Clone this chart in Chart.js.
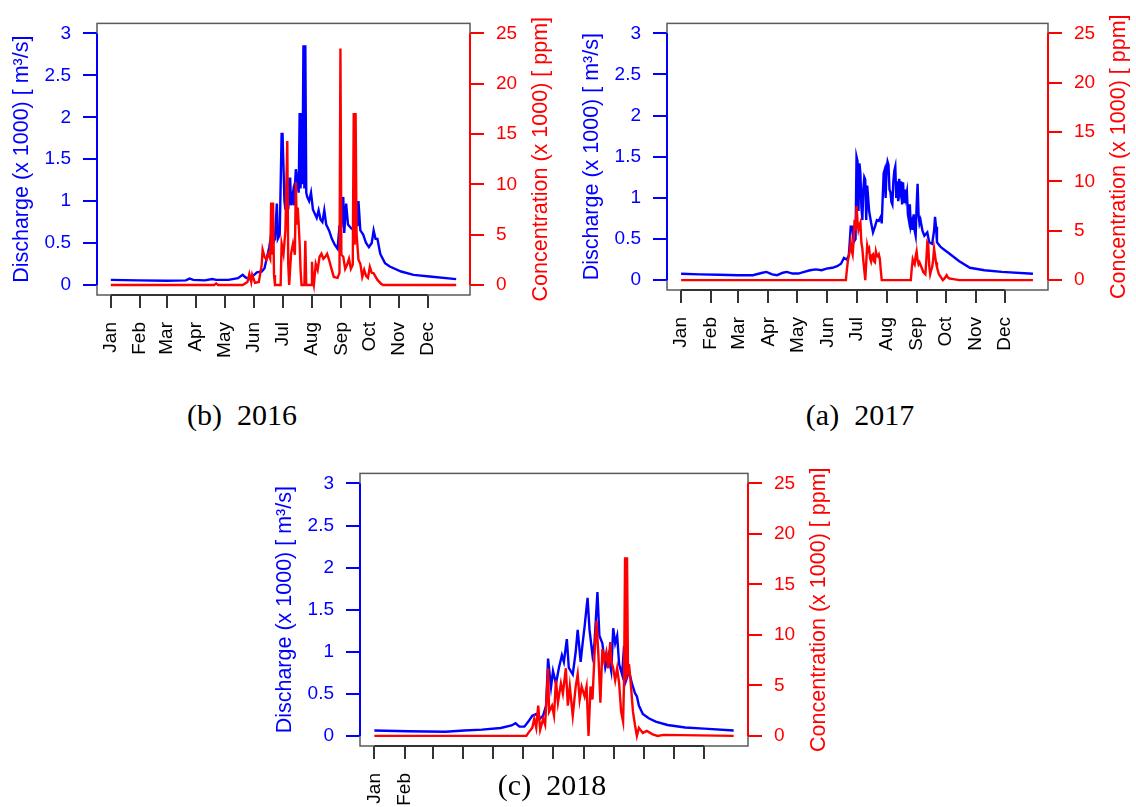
<!DOCTYPE html>
<html>
<head>
<meta charset="utf-8">
<script src="https://cdn.jsdelivr.net/npm/chart.js@4.4.0/dist/chart.umd.min.js"></script>
<style>
  html, body { margin: 0; padding: 0; background: #fff; }
  #page { position: relative; width: 1136px; height: 807px; overflow: hidden; }
  canvas { position: absolute; }
  .cap { position: absolute; font-family: "Liberation Serif", "Times New Roman", serif; font-size: 30px; color: #000; white-space: pre; transform: translateX(-50%); line-height: 1; }
</style>
</head>
<body>
<div id="page">
  <canvas id="c2016" width="562" height="392" style="left:0px;top:0px"></canvas>
  <canvas id="c2017" width="568" height="392" style="left:568px;top:0px"></canvas>
  <canvas id="c2018" width="610" height="357" style="left:255px;top:450px"></canvas>
  <div class="cap" style="left:242px;top:400px">(b)  2016</div>
  <div class="cap" style="left:860px;top:400px">(a)  2017</div>
  <div class="cap" style="left:552px;top:770px">(c)  2018</div>
</div>
<script>
// month axis
const months = ['Jan', 'Feb', 'Mar', 'Apr', 'May', 'Jun', 'Jul', 'Aug', 'Sep', 'Oct', 'Nov', 'Dec'];
const monthStartDays = [1, 32, 60, 91, 121, 152, 182, 213, 244, 274, 305, 335];
const dischargeTicks = [0, 0.5, 1, 1.5, 2, 2.5, 3];
const concTicks = [0, 5, 10, 15, 20, 25];

const qDays2016 = [1, 30, 60, 80, 84, 88, 100, 108, 112, 125, 135, 140, 143, 147, 150, 155, 160, 163, 166, 168, 170, 172, 174, 176, 177, 179, 181, 182, 184, 185, 187, 188, 190, 191, 193, 194, 196, 197, 199, 200, 201, 202, 203, 204, 205, 206, 207, 208, 210, 212, 214, 216, 218, 220, 222, 224, 226, 228, 231, 234, 237, 240, 242, 244, 246, 247, 249, 251, 254, 257, 259, 260, 261, 262, 264, 267, 270, 273, 276, 278, 280, 282, 285, 290, 295, 307, 320, 337, 365];
const q2016 = [0.06, 0.055, 0.05, 0.055, 0.075, 0.06, 0.055, 0.07, 0.06, 0.06, 0.08, 0.12, 0.09, 0.07, 0.1, 0.15, 0.16, 0.2, 0.35, 0.45, 0.6, 0.5, 0.55, 0.97, 0.55, 0.6, 1.8, 1.8, 1.0, 0.9, 1.28, 0.9, 1.28, 0.95, 1.1, 0.95, 1.38, 1.3, 1.1, 2.05, 1.15, 2.05, 1.2, 2.86, 1.15, 2.86, 1.1, 1.05, 1.0, 1.1, 0.9, 0.85, 0.8, 0.89, 0.78, 0.75, 0.89, 0.72, 0.65, 0.55, 0.48, 0.43, 0.7, 0.7, 1.05, 0.62, 0.97, 0.72, 0.68, 0.65, 0.62, 1.0, 0.7, 1.0, 0.65, 0.6, 0.5, 0.45, 0.5, 0.65, 0.55, 0.55, 0.37, 0.26, 0.22, 0.16, 0.12, 0.1, 0.07];
// 2016 - concentration (x1000 ppm)
const cDays2016 = [1, 110, 112, 114, 140, 145, 147, 149, 150, 153, 157, 160, 161, 163, 165, 167, 169, 170, 171, 172, 173, 174, 180, 181, 183, 185, 187, 188, 189, 191, 193, 195, 196, 197, 198, 199, 200, 201, 202, 205, 206, 207, 212, 213, 214, 215, 217, 219, 221, 223, 225, 227, 229, 231, 233, 236, 240, 242, 243, 244, 246, 248, 250, 252, 254, 256, 257, 258, 259, 260, 262, 264, 266, 268, 270, 272, 274, 276, 278, 282, 286, 288, 365];
const c2016 = [0, 0, 0.15, 0, 0, 0.3, 1.1, 0.3, 1.0, 0.2, 0.3, 2.0, 3.5, 2.8, 2.5, 3.1, 2.6, 8.2, 3.0, 8.2, 1.0, 0, 0, 4.1, 3.1, 5.4, 14.3, 2.0, 0, 3.1, 4.1, 3.0, 10.2, 6.0, 7.7, 6.1, 4.1, 1.5, 0, 0, 4.4, 0, 0, 2.3, 0.5, 0, 2.1, 1.5, 2.8, 3.1, 2.6, 2.8, 3.1, 2.5, 1.8, 0.8, 0.7, 1.2, 23.5, 3.0, 2.8, 1.6, 2.0, 2.6, 1.6, 2.0, 17.1, 4.0, 17.1, 5.1, 2.5, 2.1, 0.8, 1.5, 0.9, 0.7, 1.8, 1.2, 1.15, 0.5, 0.1, 0, 0];

// 2017
const qDays2017 = [1, 20, 40, 60, 75, 85, 89, 95, 100, 106, 110, 116, 122, 128, 134, 140, 146, 151, 157, 162, 166, 169, 172, 174, 175, 176, 178, 179, 181, 182, 183, 184, 185, 186, 187, 188, 189, 190, 191, 192, 193, 194, 195, 197, 199, 201, 203, 205, 207, 208, 209, 210, 211, 212, 213, 214, 215, 216, 217, 218, 219, 220, 221, 222, 223, 224, 225, 226, 227, 228, 229, 230, 231, 232, 233, 234, 235, 236, 237, 238, 239, 240, 241, 242, 243, 244, 245, 246, 247, 248, 250, 252, 255, 257, 260, 262, 263, 264, 265, 269, 277, 288, 299, 314, 332, 364];
const q2017 = [0.077, 0.07, 0.065, 0.06, 0.06, 0.09, 0.1, 0.07, 0.06, 0.09, 0.1, 0.08, 0.08, 0.1, 0.12, 0.13, 0.12, 0.14, 0.15, 0.17, 0.2, 0.27, 0.25, 0.3, 0.46, 0.65, 0.65, 0.46, 0.5, 1.5, 1.45, 0.84, 1.42, 1.3, 0.9, 0.73, 1.1, 1.25, 1.22, 0.73, 1.15, 1.0, 0.84, 0.7, 0.58, 0.65, 0.73, 0.72, 0.77, 0.69, 1.0, 1.3, 1.34, 1.0, 1.35, 1.44, 1.4, 1.1, 1.07, 0.95, 0.92, 1.2, 1.33, 1.38, 1.0, 1.2, 0.96, 1.23, 1.1, 1.2, 0.92, 1.19, 0.95, 1.1, 1.0, 1.07, 0.8, 0.73, 0.92, 0.65, 0.7, 0.61, 0.8, 0.6, 0.54, 0.9, 1.17, 0.8, 0.69, 0.73, 0.6, 0.54, 0.58, 0.46, 0.44, 0.6, 0.77, 0.65, 0.46, 0.4, 0.33, 0.23, 0.15, 0.12, 0.1, 0.077];
const cDays2017 = [1, 171, 172, 173, 175, 176, 177, 178, 179, 180, 181, 182, 183, 184, 185, 186, 187, 188, 189, 190, 191, 192, 193, 194, 195, 196, 197, 198, 199, 200, 201, 202, 203, 204, 205, 206, 207, 208, 238, 239, 240, 241, 242, 243, 244, 245, 246, 247, 249, 251, 253, 254, 255, 256, 257, 258, 259, 260, 261, 262, 263, 264, 265, 267, 269, 271, 273, 275, 276, 278, 282, 288, 364];
const c2017 = [0, 0, 1.0, 1.9, 3.0, 3.8, 3.0, 2.6, 4.0, 6.1, 5.0, 7.5, 6.0, 5.1, 5.5, 5.8, 3.8, 3.2, 2.0, 1.0, 0, 1.8, 3.5, 3.0, 3.2, 2.2, 1.9, 2.5, 2.6, 1.9, 1.8, 2.9, 2.5, 2.4, 2.6, 2.2, 1.0, 0, 0, 1.2, 2.1, 1.8, 1.6, 2.4, 2.9, 2.0, 1.6, 1.8, 1.3, 0.8, 0.6, 2.0, 3.8, 3.6, 1.5, 0.6, 1.0, 1.3, 2.0, 3.2, 2.5, 1.8, 1.3, 0.6, 0.3, 0, 0.2, 0.5, 0.3, 0.16, 0.1, 0, 0];

// 2018
const qDays2018 = [1, 35, 73, 92, 110, 129, 140, 144, 148, 153, 157, 161, 165, 168, 172, 175, 177, 180, 182, 185, 188, 191, 193, 196, 198, 202, 205, 207, 210, 212, 214, 217, 219, 222, 224, 227, 229, 232, 235, 238, 241, 243, 245, 247, 249, 252, 254, 256, 259, 262, 265, 267, 269, 273, 279, 286, 298, 316, 335, 365];
const q2018 = [0.064, 0.056, 0.05, 0.064, 0.075, 0.094, 0.124, 0.15, 0.11, 0.11, 0.17, 0.24, 0.26, 0.2, 0.24, 0.36, 0.92, 0.58, 0.77, 0.62, 0.81, 0.96, 0.88, 1.15, 0.81, 0.73, 1.0, 1.26, 0.88, 1.1, 1.3, 1.64, 1.26, 0.96, 1.1, 1.71, 1.19, 1.1, 0.81, 0.96, 0.77, 1.28, 1.1, 1.19, 0.85, 0.73, 1.07, 0.66, 0.77, 0.62, 0.51, 0.47, 0.36, 0.26, 0.21, 0.17, 0.13, 0.1, 0.087, 0.064];
const cDays2018 = [1, 155, 157, 161, 163, 165, 167, 169, 172, 174, 177, 178, 181, 183, 185, 187, 190, 192, 195, 197, 199, 202, 205, 207, 209, 211, 214, 216, 218, 220, 222, 224, 226, 228, 230, 232, 234, 236, 238, 240, 241, 243, 245, 247, 249, 251, 253, 254, 255, 256, 257, 258, 259, 261, 263, 265, 267, 269, 273, 277, 283, 288, 294, 365];
const c2018 = [0, 0, 0.3, 0.8, 1.7, 0.8, 3.0, 0.6, 1.7, 1.1, 6.7, 2.4, 3.0, 2.0, 5.5, 3.3, 5.2, 4.2, 6.7, 3.0, 4.9, 2.0, 4.9, 6.1, 3.6, 4.9, 3.9, 4.9, 0, 4.9, 3.6, 8.0, 11.4, 8.0, 3.3, 8.6, 7.4, 8.3, 6.7, 9.3, 7.4, 6.7, 5.5, 6.7, 5.2, 2.4, 1.4, 5.5, 17.7, 5.5, 17.7, 6.0, 7.1, 4.9, 2.4, 1.1, 0, 0.8, 0.3, 0.5, 0.15, 0, 0.1, 0];

const FONT = '"Liberation Sans", Arial, sans-serif';
const BLUE = '#0000ff';
const RED = '#ff0000';

// box, axis lines and rotated axis titles (R style)
const framePlugin = {
  id: 'frame',
  afterDatasetsDraw(chart) {
    const { ctx, chartArea: a, scales } = chart;
    const o = chart.options.plugins.frame;
    ctx.save();
    ctx.strokeStyle = '#5a5a5a';
    ctx.lineWidth = 1.5;
    ctx.strokeRect(a.left, a.top, a.right - a.left, a.bottom - a.top);
    ctx.lineWidth = 2;
    ctx.strokeStyle = BLUE;
    ctx.beginPath();
    ctx.moveTo(a.left, scales.yQ.getPixelForValue(0));
    ctx.lineTo(a.left, scales.yQ.getPixelForValue(3));
    ctx.stroke();
    ctx.strokeStyle = RED;
    ctx.beginPath();
    ctx.moveTo(a.right, scales.yC.getPixelForValue(0));
    ctx.lineTo(a.right, scales.yC.getPixelForValue(25));
    ctx.stroke();
    ctx.strokeStyle = '#333';
    ctx.beginPath();
    ctx.moveTo(scales.x.getPixelForValue(1), a.bottom);
    ctx.lineTo(scales.x.getPixelForValue(335), a.bottom);
    ctx.stroke();

    const midY = (a.top + a.bottom) / 2;
    ctx.font = o.size + 'px ' + FONT;
    ctx.textAlign = 'center';
    ctx.textBaseline = 'middle';
    ctx.fillStyle = BLUE;
    ctx.translate(a.left - o.leftGap, midY);
    ctx.rotate(-Math.PI / 2);
    ctx.fillText('Discharge (x 1000) [ m\u00b3/s]', 0, 0);
    ctx.restore();
    ctx.save();
    ctx.font = o.size + 'px ' + FONT;
    ctx.textAlign = 'center';
    ctx.textBaseline = 'middle';
    ctx.fillStyle = RED;
    ctx.translate(a.right + o.rightGap, midY);
    ctx.rotate(-Math.PI / 2);
    ctx.fillText('Concentration (x 1000) [ ppm]', 0, 0);
    ctx.restore();
  }
};

function pts(days, vals) {
  return days.map((d, i) => ({ x: d, y: vals[i] }));
}

function panel(id, canvasPos, box, qDays, q, cDays, c, shownMonths, size) {
  const [cx, cy, cw, ch] = canvasPos;
  const [bx0, by0, bx1, by1] = box;
  const font = { family: FONT, size: size };
  new Chart(document.getElementById(id), {
    type: 'line',
    data: {
      datasets: [
        { data: pts(cDays, c), yAxisID: 'yC', borderColor: RED, borderWidth: 2.4, pointRadius: 0, tension: 0, order: 0 },
        { data: pts(qDays, q), yAxisID: 'yQ', borderColor: BLUE, borderWidth: 2.4, pointRadius: 0, tension: 0, order: 1 }
      ]
    },
    options: {
      responsive: false,
      animation: false,
      layout: { padding: { top: by0 - cy, left: 0, right: 0, bottom: 0 } },
      plugins: {
        legend: { display: false },
        tooltip: { enabled: false },
        frame: { size: size + 2.5, leftGap: 75, rightGap: 71 }
      },
      scales: {
        x: {
          type: 'linear', position: 'bottom', min: 1 - 14.56, max: 365 + 14.56,
          afterBuildTicks: s => { s.ticks = monthStartDays.map(v => ({ value: v })); },
          afterFit: s => { s.height = cy + ch - by1; },
          ticks: {
            autoSkip: false, minRotation: 90, maxRotation: 90, padding: 14, color: '#000', font: font,
            callback: v => { const i = monthStartDays.indexOf(v); return shownMonths.includes(i) ? months[i] : ''; }
          },
          grid: { drawOnChartArea: false, drawTicks: true, tickLength: 13, color: '#333', lineWidth: 2 },
          border: { display: false }
        },
        yQ: {
          position: 'left', min: -0.12, max: 3.12,
          afterBuildTicks: s => { s.ticks = dischargeTicks.map(v => ({ value: v })); },
          afterFit: s => { s.width = bx0 - cx; },
          ticks: { color: BLUE, font: font, padding: 12, callback: v => String(v) },
          grid: { drawOnChartArea: false, tickLength: 14, color: BLUE, lineWidth: 2 },
          border: { display: false }
        },
        yC: {
          position: 'right', min: -1, max: 26,
          afterBuildTicks: s => { s.ticks = concTicks.map(v => ({ value: v })); },
          afterFit: s => { s.width = cx + cw - bx1; },
          ticks: { color: RED, font: font, padding: 12, callback: v => String(v) },
          grid: { drawOnChartArea: false, tickLength: 14, color: RED, lineWidth: 2 },
          border: { display: false }
        }
      }
    },
    plugins: [framePlugin]
  });
}

const allMonths = [0, 1, 2, 3, 4, 5, 6, 7, 8, 9, 10, 11];
panel('c2016', [0, 0, 562, 392], [97, 22, 470, 295], qDays2016, q2016, cDays2016, c2016, allMonths, 19);
panel('c2017', [568, 0, 568, 392], [667, 9, 1048, 290], qDays2017, q2017, cDays2017, c2017, allMonths, 19);
panel('c2018', [255, 450, 610, 357], [360, 458, 748, 746], qDays2018, q2018, cDays2018, c2018, [0, 1], 19);
</script>
</body>
</html>
